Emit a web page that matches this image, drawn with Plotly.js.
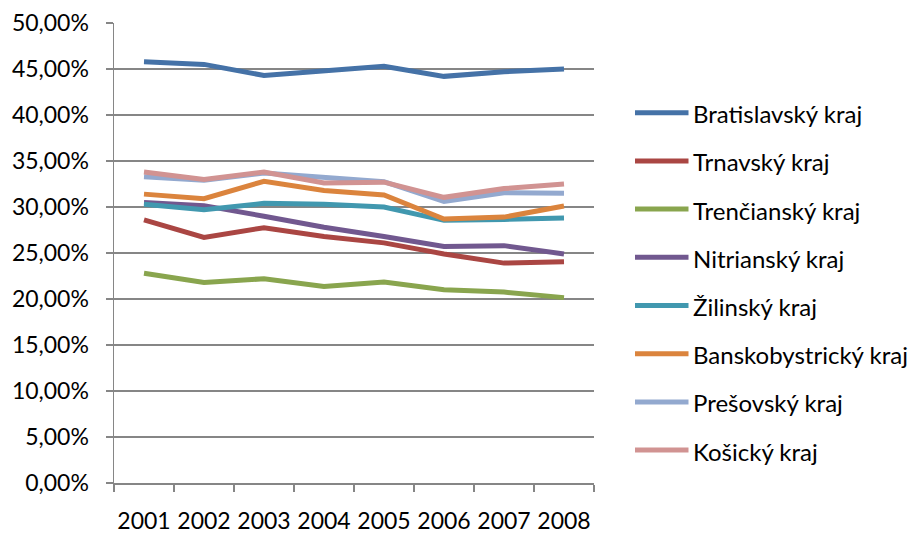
<!DOCTYPE html>
<html>
<head>
<meta charset="utf-8">
<script src="https://cdn.plot.ly/plotly-3.0.1.min.js"></script>
<style>html,body{margin:0;padding:0;background:#fff;}#chart{width:915px;height:536px;}</style>
</head>
<body>
<div id="chart"></div>
<script>
const years = ["2001","2002","2003","2004","2005","2006","2007","2008"];
const names = ["Bratislavský kraj","Trnavský kraj","Trenčianský kraj","Nitrianský kraj","Žilinský kraj","Banskobystrický kraj","Prešovský kraj","Košický kraj"];
const colors = ["#4572A7","#AA4643","#89A54E","#71588F","#4198AF","#DB843D","#93A9CF","#D19392"];
const bratislavsky = [45.8, 45.5, 44.3, 44.8, 45.3, 44.2, 44.7, 45.0];
const trnavsky = [28.6, 26.7, 27.75, 26.8, 26.1, 24.9, 23.9, 24.05];
const trenciansky = [22.8, 21.8, 22.2, 21.35, 21.85, 21.0, 20.75, 20.15];
const nitriansky = [30.5, 30.15, 29.0, 27.8, 26.8, 25.7, 25.8, 24.9];
const zilinsky = [30.3, 29.7, 30.4, 30.3, 30.0, 28.55, 28.65, 28.8];
const banskobystricky = [31.4, 30.9, 32.8, 31.8, 31.3, 28.7, 28.9, 30.1];
const presovsky = [33.3, 32.9, 33.7, 33.2, 32.75, 30.6, 31.55, 31.5];
const kosicky = [33.8, 33.0, 33.8, 32.6, 32.7, 31.05, 32.0, 32.5];
const series = [bratislavsky, trnavsky, trenciansky, nitriansky, zilinsky, banskobystricky, presovsky, kosicky];

const W = 915, H = 536;
const L = 114, R = 594, T = 23, B = 483;
const FONT = "Lato, 'Open Sans', sans-serif";
const AX = "#868686";

const traces = series.map((v, i) => ({
  type: "scatter", mode: "lines", x: years, y: v, name: names[i],
  line: {color: colors[i], width: 5}, showlegend: false, hoverinfo: "skip"
}));

// custom legend (decoration only)
const px2x = p => (p - L) / (R - L);
const py2y = p => (B - p) / (B - T);
const legTop = 112.7, legStep = 48.2;
const shapes = [], annotations = [];
names.forEach((n, i) => {
  const yc = legTop + i * legStep;
  shapes.push({type: "line", xref: "paper", yref: "paper",
    x0: px2x(635), x1: px2x(688.5), y0: py2y(yc), y1: py2y(yc),
    line: {color: colors[i], width: 5}});
  annotations.push({xref: "paper", yref: "paper", x: px2x(691), y: py2y(yc + 1),
    xanchor: "left", yanchor: "middle", showarrow: false, text: n,
    font: {family: FONT, size: 24, color: "#000"}});
});

const layout = {
  width: W, height: H,
  margin: {l: L, r: W - R, t: T, b: H - B, pad: 0},
  paper_bgcolor: "#fff", plot_bgcolor: "#fff",
  separators: ", ",
  showlegend: false,
  font: {family: FONT, size: 23, color: "#000"},
  xaxis: {
    type: "category", range: [-0.5, 7.5], tickson: "boundaries",
    showgrid: false, showline: true, linecolor: AX, linewidth: 1.5,
    ticks: "outside", ticklen: 7, tickcolor: AX, tickwidth: 1.5,
    tickangle: 0, ticklabelstandoff: 17, zeroline: false, fixedrange: true,
    tickfont: {family: FONT, size: 23, color: "#000"}
  },
  yaxis: {
    range: [0, 50], dtick: 5, tick0: 0, tickformat: ".2f", ticksuffix: "%",
    showgrid: true, gridcolor: AX, gridwidth: 1.5,
    showline: true, linecolor: AX, linewidth: 1.5, zeroline: false,
    ticks: "outside", ticklen: 7, tickcolor: AX, tickwidth: 1.5,
    ticklabelstandoff: 12, fixedrange: true,
    tickfont: {family: FONT, size: 23, color: "#000"}
  },
  shapes: shapes, annotations: annotations
};

Plotly.newPlot("chart", traces, layout, {staticPlot: true, displayModeBar: false});
</script>
</body>
</html>
